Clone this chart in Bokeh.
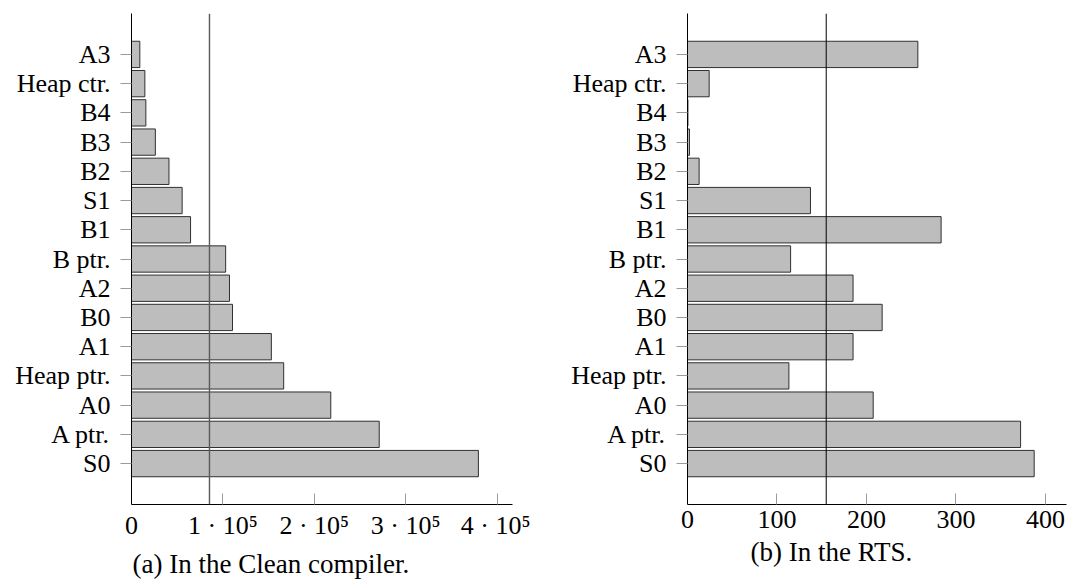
from bokeh.plotting import figure
from bokeh.models import Range1d, FixedTicker, Span, Title
from bokeh.layouts import row
from bokeh.embed import file_html
from bokeh.resources import INLINE

# ---- data (bottom to top) ----
categories = ["S0", "A ptr.", "A0", "Heap ptr.", "A1", "B0", "A2", "B ptr.",
              "B1", "S1", "B2", "B3", "B4", "Heap ctr.", "A3"]
compiler_counts = [379500, 271000, 218000, 166500, 153000, 110500, 107200, 103000,
                   64600, 55400, 41000, 26100, 15700, 14600, 9100]
rts_counts = [387.4, 372.2, 207.5, 113.3, 185.0, 217.5, 185.0, 115.2,
              283.4, 137.4, 13.0, 2.2, 0.5, 24.2, 257.4]
compiler_ref = 85300
rts_ref = 155
compiler_ticks = [0, 100000, 200000, 300000, 400000]
compiler_tick_labels = ["0", "1 · 10⁵", "2 · 10⁵", "3 · 10⁵", "4 · 10⁵"]
rts_ticks = [0, 100, 200, 300, 400]
rts_tick_labels = ["0", "100", "200", "300", "400"]
captions = ["(a) In the Clean compiler.", "(b) In the RTS."]

FONT = "Liberation Serif"
LABEL_SIZE = "26px"
CAP_SIZE = "27px"


def panel(values, ref, xticks, xlabels, xend, caption, cap_offset,
          frame_w, b_left, b_right, b_top, b_bottom, ref_color, ref_width):
    ypos = list(range(len(categories)))
    p = figure(frame_width=frame_w, frame_height=491,
               min_border_left=b_left, min_border_right=b_right,
               min_border_top=b_top, min_border_bottom=b_bottom,
               x_range=Range1d(0, xend), y_range=Range1d(-1.4, 15.4),
               output_backend="svg", toolbar_location=None, tools="")
    p.outline_line_color = None
    p.grid.visible = False
    p.background_fill_color = "white"

    p.hbar(y=ypos, right=values, left=0, height=0.9,
           fill_color="#bdbdbd", line_color="#303030", line_width=1)

    p.add_layout(Span(location=ref, dimension="height",
                      line_color=ref_color, line_width=ref_width))

    # y axis
    ya = p.yaxis[0]
    ya.ticker = FixedTicker(ticks=ypos)
    ya.major_label_overrides = {i: c for i, c in zip(ypos, categories)}
    ya.major_tick_out = 11
    ya.major_tick_in = 0
    ya.minor_tick_line_color = None
    ya.major_tick_line_color = "#9a9a9a"
    ya.axis_line_color = "black"
    ya.major_label_standoff = 10
    ya.major_label_text_font = FONT
    ya.major_label_text_font_size = LABEL_SIZE
    ya.major_label_text_color = "black"

    # x axis
    xa = p.xaxis[0]
    xa.ticker = FixedTicker(ticks=xticks)
    xa.major_label_overrides = {t: l for t, l in zip(xticks, xlabels)}
    xa.major_tick_out = 0
    xa.major_tick_in = 11
    xa.minor_tick_line_color = None
    xa.major_tick_line_color = "#9a9a9a"
    xa.axis_line_color = "black"
    xa.major_label_standoff = 6
    xa.major_label_text_font = FONT
    xa.major_label_text_font_size = LABEL_SIZE
    xa.major_label_text_color = "black"

    p.add_layout(Title(text=caption, align="left", offset=cap_offset,
                       text_font=FONT, text_font_size=CAP_SIZE,
                       text_font_style="normal", text_color="black",
                       standoff=9), "below")
    return p


p1 = panel(compiler_counts, compiler_ref, compiler_ticks, compiler_tick_labels,
           416800, captions[0], 1, 381, 131, 18, 11, 80, "#5a5a5a", 1.4)
p2 = panel(rts_counts, rts_ref, rts_ticks, rts_tick_labels,
           423.5, captions[1], 63, 379, 157, 1, 13, 78, "black", 1)

layout = row(p1, p2)
open("out.html", "w").write(file_html(layout, INLINE))
